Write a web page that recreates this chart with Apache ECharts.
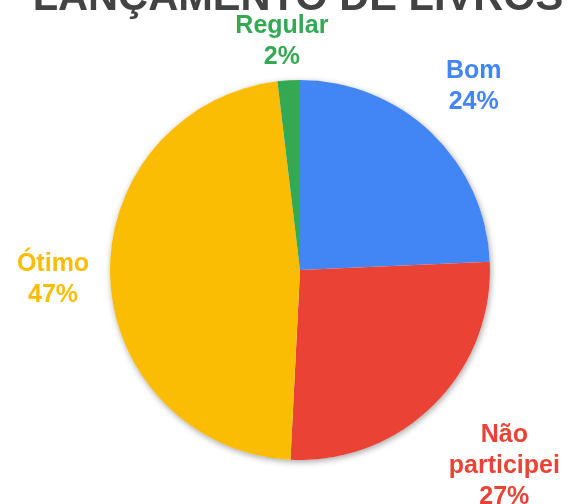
<!DOCTYPE html>
<html>
<head>
<meta charset="utf-8">
<script src="https://cdn.jsdelivr.net/npm/echarts@6/dist/echarts.min.js"></script>
<style>
  html, body { margin: 0; padding: 0; background: #fff; }
  #chart { width: 575px; height: 504px; }
</style>
</head>
<body>
<div id="chart"></div>
<script>
// dados da pesquisa
const titleText = 'LANÇAMENTO DE LIVROS';
const categories = ['Bom', 'Não participei', 'Ótimo', 'Regular'];
const values = [24.3, 26.5, 47.3, 1.9];
const colors = ['#4285F4', '#EA4335', '#FBBC04', '#34A853'];

const FONT = "'Liberation Sans', Arial, sans-serif";
const CX = 300, CY = 270, R = 190;
const GAP = 21;       // distância entre o disco e o canto mais próximo do rótulo
const TOP_LIMIT = 11; // rótulos não sobem acima da área do título

const total = values.reduce((a, b) => a + b, 0);
// ângulo médio de cada fatia (horário a partir do topo)
const midAngles = values.map((v, i) => {
  const before = values.slice(0, i).reduce((a, b) => a + b, 0);
  return (before + v / 2) / total * Math.PI * 2;
});

const clamp = v => Math.max(-1, Math.min(1, v));

const chart = echarts.init(document.getElementById('chart'));

chart.setOption({
  animation: false,
  backgroundColor: '#fff',
  title: {
    text: titleText,
    left: 293,
    textAlign: 'center',
    top: -27,
    textStyle: { fontFamily: FONT, fontSize: 41.6, fontWeight: 'bold', color: '#434343' }
  },
  series: [
    {
      // círculo de fundo só para a sombra
      type: 'pie',
      center: [CX, CY],
      radius: R,
      silent: true,
      z: 1,
      label: { show: false },
      labelLine: { show: false },
      itemStyle: {
        color: '#fff',
        shadowBlur: 6,
        shadowColor: 'rgba(0,0,0,0.35)',
        shadowOffsetX: 1,
        shadowOffsetY: 2
      },
      data: [{ value: 1 }]
    },
    {
      type: 'pie',
      center: [CX, CY],
      radius: R,
      startAngle: 90,
      clockwise: true,
      z: 2,
      avoidLabelOverlap: false,
      itemStyle: { borderWidth: 0 },
      label: {
        show: true,
        position: 'outside',
        fontFamily: FONT,
        fontSize: 25,
        fontWeight: 'bold',
        lineHeight: 31,
        formatter: p => p.name.replace(' ', '\n') + '\n' + Math.round(p.percent) + '%'
      },
      labelLine: { show: false },
      labelLayout: params => {
        const a = midAngles[params.dataIndex];
        const ux = Math.sin(a), uy = -Math.cos(a);
        const hw = params.labelRect.width / 2, hh = params.labelRect.height / 2;
        // ponto de ancoragem fora do disco; o rótulo encosta nele pelo canto/lado mais próximo
        const ax = CX + (R + GAP) * ux, ay = CY + (R + GAP) * uy;
        const x = ax + hw * clamp(ux * 2);
        let y = ay + hh * clamp(uy * 2);
        y = Math.max(y, TOP_LIMIT + hh);
        return { x, y, align: 'center', verticalAlign: 'middle' };
      },
      data: categories.map((name, i) => ({
        name,
        value: values[i],
        itemStyle: { color: colors[i] },
        label: { color: colors[i] }
      }))
    }
  ]
});
</script>
</body>
</html>
